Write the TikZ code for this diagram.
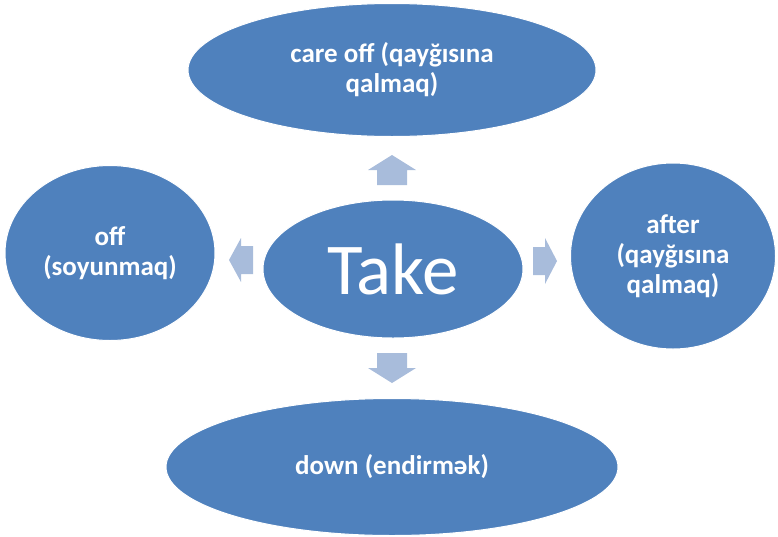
\documentclass[tikz,border=0pt]{standalone}
\usepackage{fontspec}
\setmainfont{Carlito}
\usetikzlibrary{shapes.geometric}

\definecolor{ovalblue}{HTML}{4F81BD}
\definecolor{arrowblue}{HTML}{A8BCDB}

\tikzset{
    oval/.style={ellipse, fill=ovalblue, draw=white, line width=1pt, inner sep=0pt,
        text=white, font=\bfseries\fontsize{27}{30}\selectfont, align=center},
    blockarrow/.style={fill=arrowblue}
}

\begin{document}
\begin{tikzpicture}[x=1pt,y=-1pt]
            \useasboundingbox (0,0) rectangle (778,536);
            \node[oval, minimum width=408, minimum height=133] (careoff) at (392,70) {care off (qayğısına\\qalmaq)};
            \node[oval, minimum width=210, minimum height=175] (off) at (110,253) {off\\(soyunmaq)};
            \node[oval, minimum width=260, minimum height=138, font=\fontsize{73}{80}\selectfont] (take) at (393,269) {Take};
            \node[oval, minimum width=205, minimum height=186] (after) at (673,256) {after\\(qayğısına\\qalmaq)};
            \node[oval, minimum width=452, minimum height=137] (down) at (392,467) {down (endirmək)};
            % block arrows: x/y of head base, direction, head length, shaft half width, head half width
            \foreach \x/\y/\a/\l/\s/\h in {392/170/90/15/15/24, 241/260/180/12/14/22, 545/261/0/12/14/23, 392/368/-90/15/15/24}{
                \fill[blockarrow, shift={(\x,\y)}, rotate=\a] (\l,0) -- (0,\h) -- (0,\s) -- (-\l,\s) -- (-\l,-\s) -- (0,-\s) -- (0,-\h) -- cycle;
            }
        \end{tikzpicture}
\end{document}
